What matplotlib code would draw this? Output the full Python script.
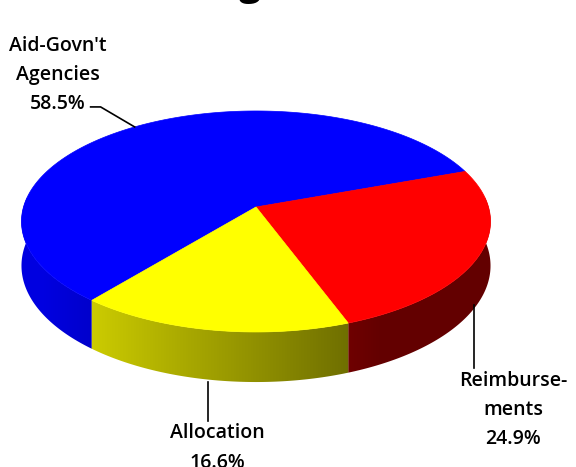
import numpy as np
import matplotlib
matplotlib.use("Agg")
import matplotlib.pyplot as plt
from matplotlib.colors import to_rgb

# Funding shares (percent)
categories = ["Aid-Govn't\nAgencies", "Reimburse-\nments", "Allocation"]
shares = [58.5, 24.9, 16.6]
colors = ["#0000FF", "#FF0000", "#FFFF00"]
title_text = "Funding"

# Pie placement in pixel space (y grows downward)
CX, CY = 256.0, 207.0      # apex of the top face
SX, SY = 232.5, 108.6      # horizontal / vertical radii scale
P = 0.131                  # perspective foreshortening of the far half
H = 43.5                   # wall height
START = 20.0 + 360.0 * shares[0] / 100.0   # first slice begins here, runs clockwise
FRONT = (-185.0, 5.0)      # angular range of the visible side wall

W, Hpx = 576, 467
fig = plt.figure(figsize=(W / 100, Hpx / 100), dpi=100)
ax = fig.add_axes([0, 0, 1, 1])

FONT = ["Open Sans", "DejaVu Sans"]


def project(theta_deg, depth=0.0):
    t = np.radians(theta_deg)
    x, y = np.cos(t), np.sin(t)
    w = 1.0 + P * y
    return CX + SX * x / w, CY - SY * y / w + depth * H / w


def shade(theta_deg):
    c = np.cos(np.radians(theta_deg))
    return np.clip(0.565 - 0.37 * c, 0.39, 0.88)


def front_part(a0, a1):
    """Part of the clockwise arc a0 -> a1 that faces the viewer."""
    lo0, hi0 = min(a0, a1), max(a0, a1)
    for k in (-2, -1, 0, 1, 2):
        lo, hi = lo0 + 360 * k, hi0 + 360 * k
        lo_c, hi_c = max(lo, FRONT[0]), min(hi, FRONT[1])
        if hi_c > lo_c:
            return lo_c, hi_c
    return None


# slice angle ranges (clockwise)
bounds = []
a = START
for s in shares:
    span = 360.0 * s / 100.0
    bounds.append((a, a - span))
    a -= span

# screen-x -> angle lookup along the front rim (for wall shading)
front_th = np.linspace(-180.0, 0.0, 2000)
front_x = np.array([project(t)[0] for t in front_th])
xs = np.arange(0, W + 1, 1.0)
col_theta = np.interp(xs, front_x, front_th)

# side walls: a shaded gradient image clipped to each slice's wall outline
for (a0, a1), col in zip(bounds, colors):
    part = front_part(a0, a1)
    if part is None:
        continue
    lo, hi = part
    th = np.linspace(hi, lo, 300)
    top = [project(t) for t in th]
    bot = [project(t, 1.0) for t in th[::-1]]
    poly = plt.Polygon(top + bot, closed=True, facecolor="none",
                       edgecolor="none")
    ax.add_patch(poly)
    base = np.array(to_rgb(col))
    row = base[None, :] * shade(col_theta)[:, None]
    img = np.repeat(row[None, :, :], 2, axis=0)
    im = ax.imshow(img, extent=(-0.5, W + 0.5, Hpx, 0), aspect="auto",
                   interpolation="bilinear", zorder=2)
    im.set_clip_path(poly)

# top faces
for (a0, a1), col in zip(bounds, colors):
    th = np.linspace(a0, a1, 240)
    pts = [(CX, CY)] + [project(t) for t in th]
    ax.add_patch(plt.Polygon(pts, closed=True, facecolor=col,
                             edgecolor=col, linewidth=0.5, zorder=3))

ax.set_xlim(0, W)
ax.set_ylim(Hpx, 0)
ax.axis("off")

mids = [0.5 * (a0 + a1) for a0, a1 in bounds]
fs = 14
ls = 1.62
lkw = dict(color="black", lw=1.2, zorder=4)

# Aid-Govn't Agencies label with bent leader
txt0 = f"{categories[0]}\n{shares[0]:.1f}%"
ax.text(58, 75, txt0, ha="center", va="center", fontsize=fs,
        family=FONT, weight="semibold", linespacing=ls, zorder=5)
rx, ry = project(mids[0])
ax.plot([rx - 44, rx - 34, rx], [ry - 20, ry - 20, ry], **lkw)

# Reimbursements label
txt1 = f"{categories[1]}\n{shares[1]:.1f}%"
ax.text(513, 410, txt1, ha="center", va="center", fontsize=fs,
        family=FONT, weight="semibold", linespacing=ls, zorder=5)
bx, by = project(mids[1], 1.0)
ax.plot([bx - 5, bx - 5], [by + 4, 368], **lkw)

# Allocation label
txt2 = f"{categories[2]}\n{shares[2]:.1f}%"
ax.text(217, 448, txt2, ha="center", va="center", fontsize=fs,
        family=FONT, weight="semibold", linespacing=ls, zorder=5)
bx, by = project(mids[2], 1.0)
ax.plot([bx - 4, bx - 4], [by + 2, 421], **lkw)

# chart title sits above the canvas top
fig.text(262 / W, 1 + 5 / Hpx, title_text, ha="right", va="baseline",
         fontsize=28, weight="bold", family=FONT)

fig.savefig("out.png", dpi=100)
